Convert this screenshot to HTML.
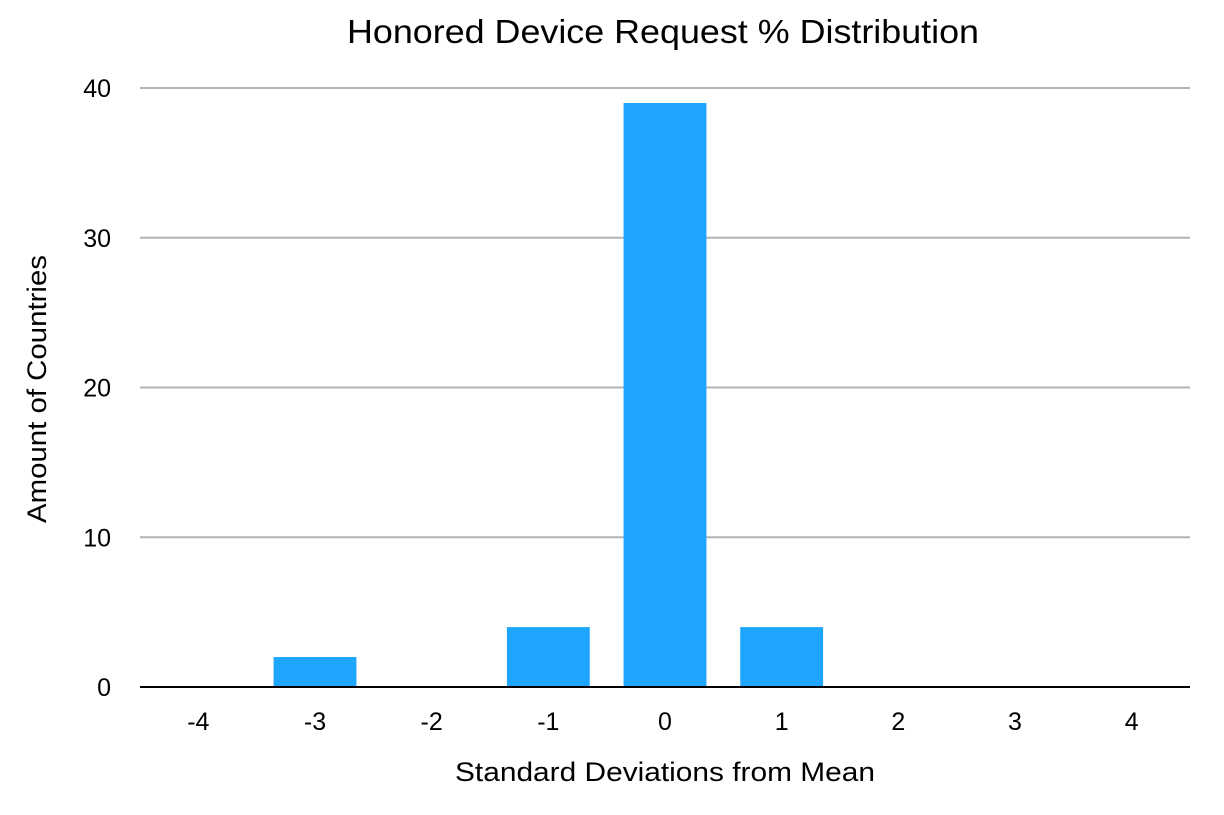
<!DOCTYPE html>
<html><head><meta charset="utf-8"><style>
body{margin:0;background:#fff;}
svg text{font-family:"Liberation Sans",Arial,sans-serif;fill:#000;}
</style></head><body>
<svg width="1224" height="810" xmlns="http://www.w3.org/2000/svg">
<text x="663" y="43" font-size="33" text-anchor="middle" textLength="632" lengthAdjust="spacingAndGlyphs">Honored Device Request % Distribution</text>
<text x="665" y="781" font-size="27" text-anchor="middle" textLength="420" lengthAdjust="spacingAndGlyphs">Standard Deviations from Mean</text>
<text transform="translate(46,389) rotate(-90)" font-size="27" text-anchor="middle" textLength="268" lengthAdjust="spacingAndGlyphs">Amount of Countries</text>
<g id="grid"></g><g id="bars"></g><g id="axes"></g>
</svg>
<script>
const categories=["-4","-3","-2","-1","0","1","2","3","4"];
const counts=[0,2,0,4,39,4,0,0,0];
const yTicks=[0,10,20,30,40];
const x0=140,x1=1190,yBase=687,yTop=88,yMax=40;
const band=(x1-x0)/categories.length;
const y=v=>yBase-(v/yMax)*(yBase-yTop);
const xc=i=>x0+band*(i+0.5);
const NS="http://www.w3.org/2000/svg";
const grid=document.getElementById('grid'),bars=document.getElementById('bars'),axes=document.getElementById('axes');
yTicks.forEach(t=>{
  if(t>0){const l=document.createElementNS(NS,'line');
  l.setAttribute('x1',x0);l.setAttribute('x2',x1);l.setAttribute('y1',y(t));l.setAttribute('y2',y(t));
  l.setAttribute('stroke','#b3b3b3');l.setAttribute('stroke-width','2');
  
  
  grid.appendChild(l);}
  const tx=document.createElementNS(NS,'text');
  tx.setAttribute('x',111);tx.setAttribute('y',y(t)+9);tx.setAttribute('font-size','25');tx.setAttribute('text-anchor','end');
  tx.textContent=t;
  
  
  axes.appendChild(tx);
});
const bw=band*0.71;
counts.forEach((v,i)=>{
  if(v>0){const r=document.createElementNS(NS,'rect');
  r.setAttribute('x',xc(i)-bw/2);r.setAttribute('width',bw);r.setAttribute('y',y(v));r.setAttribute('height',yBase-y(v));
  r.setAttribute('fill','#1ea5fd');
  
  
  bars.appendChild(r);}
  const tx=document.createElementNS(NS,'text');
  tx.setAttribute('x',xc(i));tx.setAttribute('y',730);tx.setAttribute('font-size','25');tx.setAttribute('text-anchor','middle');
  tx.textContent=categories[i];
  
  
  axes.appendChild(tx);
});
const b=document.createElementNS(NS,'line');
b.setAttribute('x1',x0);b.setAttribute('x2',x1);b.setAttribute('y1',yBase);b.setAttribute('y2',yBase);
b.setAttribute('stroke','#000');b.setAttribute('stroke-width','2');


axes.appendChild(b);
</script>
</body></html>
